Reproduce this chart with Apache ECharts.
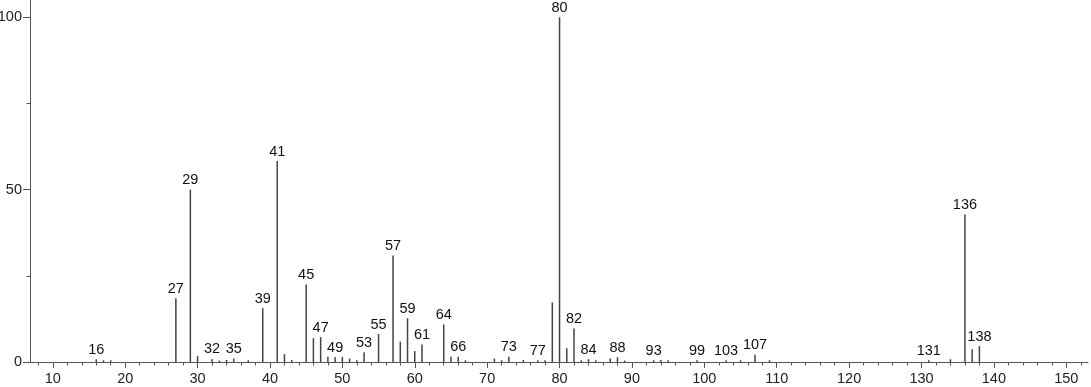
<!DOCTYPE html>
<html>
<head>
<meta charset="utf-8">
<script src="https://cdn.jsdelivr.net/npm/echarts@6/dist/echarts.min.js"></script>
<style>
html,body{margin:0;padding:0;background:#fff;}
#chart{width:1091px;height:387px;}
</style>
</head>
<body>
<div id="chart"></div>
<script>
// m/z values and relative intensities
const mz = [16,17,18,27,29,30,32,33,34,35,37,39,41,42,43,45,46,47,48,49,50,51,52,53,55,57,58,59,60,61,64,65,66,67,71,72,73,75,77,78,79,80,81,82,83,84,85,87,88,89,93,94,95,99,103,105,107,109,131,134,136,137,138];
const intensity = [0.8,0.5,0.5,18.5,50,1.7,0.9,0.4,0.6,1.0,0.5,15.6,58.3,2.3,0.6,22.5,6.9,7.2,1.5,1.4,1.5,1.0,0.5,2.8,8.1,30.9,5.9,12.7,3.2,5.1,10.9,1.5,1.5,0.5,1.0,0.5,1.5,0.6,0.5,0.5,17.3,100,4.0,9.7,0.5,0.8,0.5,1.0,1.4,0.4,0.5,0.6,0.5,0.5,0.5,0.5,2.1,0.5,0.5,0.8,42.8,3.7,4.6];
// peaks that carry a label
const labeled = [16,27,29,32,35,39,41,45,47,49,53,55,57,59,61,64,66,73,77,80,82,84,88,93,99,103,107,131,136,138];
// axis ticks
const xMajorTicks = [10,20,30,40,50,60,70,80,90,100,110,120,130,140,150];
const xMinorTicks = [8,12,14,16,18,22,24,26,28,32,34,36,38,42,44,46,48,52,54,56,58,62,64,66,68,72,74,76,78,82,84,86,88,92,94,96,98,102,104,106,108,112,114,116,118,122,124,126,128,132,134,136,138,142,144,146,148,152];
const yMajorTicks = [0,50,100];
const yMinorTicks = [25,75];

const data = mz.map((m, i) => ({
  value: [m, intensity[i]],
  label: { show: labeled.indexOf(m) >= 0 }
}));

const chart = echarts.init(document.getElementById('chart'));
const axisColor = '#555';
const font = 'Liberation Sans, Arial, sans-serif';
chart.setOption({
  animation: false,
  backgroundColor: '#fff',
  grid: { left: 30, right: 3, top: 0, bottom: 25, containLabel: false, outerBoundsMode: 'none' },
  xAxis: [{
    type: 'value', min: 6.85, max: 153,
    axisLine: { show: true, lineStyle: { color: axisColor, width: 1 } },
    axisTick: { show: true, customValues: xMajorTicks, length: 6, lineStyle: { color: axisColor } },
    axisLabel: { customValues: xMajorTicks, margin: 9, fontSize: 14.5, color: '#222', fontFamily: font },
    splitLine: { show: false }
  }, {
    type: 'value', min: 6.85, max: 153, position: 'bottom',
    axisLine: { show: false },
    axisTick: { show: true, customValues: xMinorTicks, length: 3.5, lineStyle: { color: axisColor } },
    axisLabel: { show: false },
    splitLine: { show: false }
  }],
  yAxis: [{
    type: 'value', min: 0, max: 105,
    axisLine: { show: true, lineStyle: { color: axisColor, width: 1 } },
    axisTick: { show: true, customValues: yMajorTicks, length: 7, lineStyle: { color: axisColor } },
    axisLabel: { customValues: yMajorTicks, margin: 8, fontSize: 14.5, color: '#222', fontFamily: font },
    splitLine: { show: false }
  }, {
    type: 'value', min: 0, max: 105, position: 'left',
    axisLine: { show: false },
    axisTick: { show: true, customValues: yMinorTicks, length: 3.5, lineStyle: { color: axisColor } },
    axisLabel: { show: false },
    splitLine: { show: false }
  }],
  series: [{
    type: 'bar',
    xAxisIndex: 0, yAxisIndex: 0,
    barWidth: 1.5,
    itemStyle: { color: '#444' },
    label: { position: 'top', distance: 2, fontSize: 14.5, color: '#111', fontFamily: font,
      formatter: p => String(p.value[0]) },
    data: data
  }]
});
</script>
</body>
</html>
